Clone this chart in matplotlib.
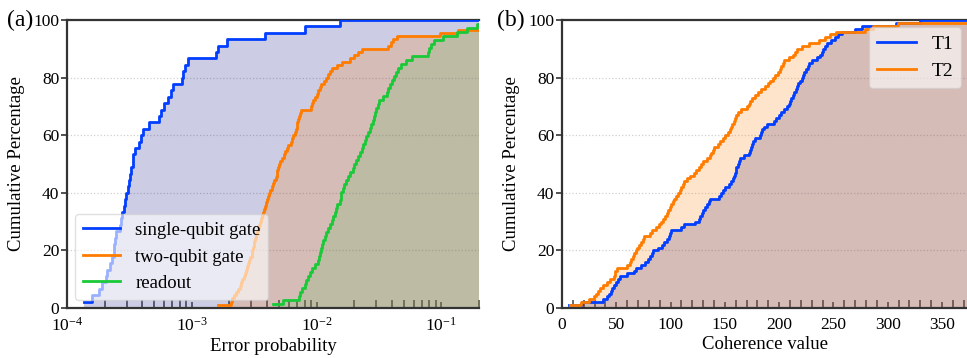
import numpy as np
import matplotlib
matplotlib.use("Agg")
import matplotlib.pyplot as plt
from matplotlib.ticker import MultipleLocator, LogLocator, NullFormatter

plt.rcParams['font.family'] = ['Liberation Serif', 'DejaVu Serif']
plt.rcParams['mathtext.fontset'] = 'stix'

# error probabilities per qubit / pair
single_qubit = [1.38e-4, 1.58e-4, 1.79e-4, 1.91e-4, 2.07e-4, 2.11e-4, 2.22e-4, 2.29e-4, 2.36e-4,
                2.39e-4, 2.44e-4, 2.48e-4, 2.67e-4, 2.72e-4, 2.77e-4, 2.84e-4, 2.91e-4, 2.98e-4,
                3.08e-4, 3.13e-4, 3.21e-4, 3.27e-4, 3.35e-4, 3.41e-4, 3.52e-4, 3.74e-4, 3.91e-4,
                4.10e-4, 4.50e-4, 5.41e-4, 5.65e-4, 6.01e-4, 6.50e-4, 6.79e-4, 7.05e-4, 8.32e-4,
                8.57e-4, 8.84e-4, 9.40e-4, 1.57e-3, 1.63e-3, 1.91e-3, 3.86e-3, 8.07e-3, 1.54e-2]

two_qubit = [1.63e-3, 2.05e-3, 2.11e-3, 2.18e-3, 2.28e-3, 2.35e-3, 2.42e-3, 2.47e-3, 2.53e-3,
             2.61e-3, 2.67e-3, 2.72e-3, 2.75e-3, 2.82e-3, 2.89e-3, 2.95e-3, 3.02e-3, 3.06e-3,
             3.11e-3, 3.14e-3, 3.17e-3, 3.21e-3, 3.25e-3, 3.31e-3, 3.39e-3, 3.46e-3, 3.52e-3,
             3.59e-3, 3.65e-3, 3.75e-3, 3.82e-3, 3.89e-3, 3.94e-3, 4.00e-3, 4.08e-3, 4.15e-3,
             4.23e-3, 4.37e-3, 4.50e-3, 4.58e-3, 4.70e-3, 4.79e-3, 4.85e-3, 4.94e-3, 5.03e-3,
             5.12e-3, 5.28e-3, 5.44e-3, 5.58e-3, 5.75e-3, 5.95e-3, 6.20e-3, 6.38e-3, 6.51e-3,
             6.67e-3, 6.83e-3, 6.92e-3, 7.00e-3, 7.09e-3, 7.22e-3, 7.36e-3, 7.49e-3, 8.96e-3,
             9.18e-3, 9.40e-3, 9.70e-3, 1.00e-2, 1.03e-2, 1.06e-2, 1.09e-2, 1.14e-2, 1.19e-2,
             1.23e-2, 1.27e-2, 1.32e-2, 1.45e-2, 1.60e-2, 1.85e-2, 2.00e-2, 2.15e-2, 2.29e-2,
             3.70e-2, 3.92e-2, 4.13e-2, 4.40e-2, 9.70e-2, 0.136, 0.30, 0.50, 0.80]

readout = [4.5e-3, 5.4e-3, 7.2e-3, 7.3e-3, 7.6e-3, 8.0e-3, 8.3e-3, 8.6e-3, 8.9e-3, 9.2e-3,
           9.75e-3, 1.02e-2, 1.05e-2, 1.06e-2, 1.08e-2, 1.10e-2, 1.13e-2, 1.17e-2, 1.20e-2,
           1.24e-2, 1.28e-2, 1.33e-2, 1.36e-2, 1.41e-2, 1.44e-2, 1.47e-2, 1.54e-2, 1.56e-2,
           1.58e-2, 1.62e-2, 1.66e-2, 1.71e-2, 1.78e-2, 1.86e-2, 1.94e-2, 2.00e-2, 2.07e-2,
           2.14e-2, 2.22e-2, 2.29e-2, 2.36e-2, 2.44e-2, 2.51e-2, 2.59e-2, 2.66e-2, 2.74e-2,
           2.82e-2, 2.89e-2, 2.96e-2, 3.02e-2, 3.08e-2, 3.17e-2, 3.41e-2, 3.68e-2, 3.72e-2,
           3.91e-2, 4.05e-2, 4.20e-2, 4.35e-2, 4.50e-2, 4.73e-2, 5.25e-2, 5.86e-2, 7.8e-2,
           8.0e-2, 8.3e-2, 8.8e-2, 0.103, 0.134, 0.159, 0.193, 0.25]

# coherence times
t1 = [6.0, 18.0, 37.7, 41.4, 42.9, 44.8, 46.3, 47.9, 50.0, 51.8, 53.7, 59.8, 66.0, 68.1, 72.7,
      76.4, 78.8, 80.7, 82.5, 84.0, 88.0, 92.0, 94.2, 96.6, 98.2, 99.1, 100.3, 109.8, 112.6,
      122.7, 126.1, 127.3, 128.8, 130.1, 131.9, 133.4, 135.0, 136.5, 144.8, 146.6, 148.2,
      150.0, 153.4, 155.5, 157.1, 158.3, 159.2, 160.1, 160.7, 161.7, 162.9, 163.8, 167.2,
      171.8, 173.0, 173.9, 174.8, 176.1, 177.9, 182.8, 183.4, 184.0, 185.6, 188.7, 194.8,
      197.2, 199.4, 201.8, 204.6, 207.1, 208.6, 210.1, 211.3, 212.6, 214.1, 215.3, 216.3,
      217.8, 219.3, 220.6, 221.5, 222.7, 224.5, 226.4, 227.9, 230.4, 235.3, 237.7, 239.3,
      240.8, 242.0, 243.9, 247.5, 251.5, 254.0, 257.7, 270.0, 276.0, 308.0, 330.0]

t2 = [7.7, 17.5, 25.2, 29.1, 31.3, 33.1, 35.3, 38.0, 41.4, 43.9, 47.5, 48.5, 49.1, 50.3, 59.8,
      62.3, 63.8, 65.0, 66.0, 67.8, 69.3, 71.2, 73.0, 74.2, 75.8, 80.7, 82.5, 86.2, 89.0,
      90.8, 92.9, 94.8, 96.6, 97.9, 99.1, 100.6, 101.8, 103.4, 104.6, 106.4, 108.9, 109.8,
      111.0, 112.3, 114.7, 118.1, 121.5, 123.6, 125.8, 127.6, 129.4, 133.1, 136.2, 137.4,
      138.7, 139.6, 143.9, 145.7, 147.9, 150.0, 153.1, 154.3, 155.5, 156.7, 158.0, 158.9,
      160.4, 162.3, 164.4, 170.6, 171.8, 173.0, 175.2, 177.9, 180.7, 183.4, 187.1, 189.9,
      191.4, 194.2, 196.6, 199.1, 201.2, 202.1, 203.1, 204.0, 208.6, 212.3, 214.4, 216.0,
      221.2, 227.9, 237.1, 242.0, 246.9, 252.8, 279.1, 286.8, 309.8, 400.0]

BLUE, ORANGE, GREEN = '#023eff', '#ff7c00', '#1ac938'
FILL_BLUE, FILL_ORANGE, FILL_GREEN = '#000080', '#ff7c00', '#59b759'
SPINE = '#333333'


def ecdf(ax, values, xmax, color, fill, label):
    x = np.sort(np.asarray(values, dtype=float))
    y = np.arange(1, len(x) + 1) / len(x) * 100
    keep = x <= xmax
    x = np.append(x[keep], xmax)
    y = np.append(y[keep], y[keep][-1])
    ax.fill_between(x, 0, y, step='post', color=fill, alpha=0.2, lw=0, zorder=1)
    ax.step(x, y, where='post', color=color, lw=2, label=label, zorder=3)


def style(ax):
    ax.set_ylim(0, 100)
    ax.set_yticks(np.arange(0, 101, 20))
    ax.set_axisbelow(True)
    ax.grid(axis='y', ls=':', color='#d0d0d0', lw=0.9)
    ax.spines['right'].set_visible(False)
    for s in ('left', 'bottom', 'top'):
        ax.spines[s].set_color(SPINE)
        ax.spines[s].set_linewidth(1.6)
    ax.tick_params(axis='y', direction='out', length=4, width=1.2, pad=1.5,
                   color=SPINE, labelsize=12.5)
    ax.tick_params(axis='x', which='both', direction='in', color='#555555',
                   labelsize=12.5, pad=6.5)
    ax.tick_params(axis='x', which='major', length=4, width=1.2)
    ax.tick_params(axis='x', which='minor', length=5.5, width=1.2)
    ax.set_ylabel('Cumulative Percentage', fontsize=13.5, labelpad=6)


fig = plt.figure(figsize=(9.67, 3.58), dpi=100)
ax1 = fig.add_axes([0.0693, 0.1397, 0.426, 0.8043])
ax2 = fig.add_axes([0.5812, 0.1397, 0.4188, 0.8043])

xmax_a = 0.2
ax1.set_xscale('log')
ecdf(ax1, single_qubit, xmax_a, BLUE, FILL_BLUE, 'single-qubit gate')
ecdf(ax1, two_qubit, xmax_a, ORANGE, FILL_ORANGE, 'two-qubit gate')
ecdf(ax1, readout, xmax_a, GREEN, FILL_GREEN, 'readout')
ax1.set_xlim(1e-4, xmax_a)
ax1.xaxis.set_minor_locator(LogLocator(base=10, subs=np.arange(2, 10)))
ax1.xaxis.set_minor_formatter(NullFormatter())
style(ax1)
ax1.set_xlabel('Error probability', fontsize=13.5, labelpad=2)
ax1.legend(loc='lower left', fontsize=13.5, handlelength=2.0, framealpha=0.6,
           borderaxespad=0.45)
ax1.text(-0.146, 1.0, '(a)', transform=ax1.transAxes, fontsize=17, va='center')

xmax_b = 373
ecdf(ax2, t1, xmax_b, BLUE, FILL_BLUE, 'T1')
ecdf(ax2, t2, xmax_b, ORANGE, FILL_ORANGE, 'T2')
ax2.set_xlim(0, xmax_b)
ax2.xaxis.set_major_locator(MultipleLocator(50))
ax2.xaxis.set_minor_locator(MultipleLocator(10))
style(ax2)
ax2.set_xlabel('Coherence value', fontsize=13.5, labelpad=2)
ax2.legend(loc='upper right', bbox_to_anchor=(1.0, 0.995), fontsize=14,
           handlelength=2.0, framealpha=0.6, borderaxespad=0.3)
ax2.text(-0.16, 1.0, '(b)', transform=ax2.transAxes, fontsize=17, va='center')

fig.savefig('out.png', dpi=100)
